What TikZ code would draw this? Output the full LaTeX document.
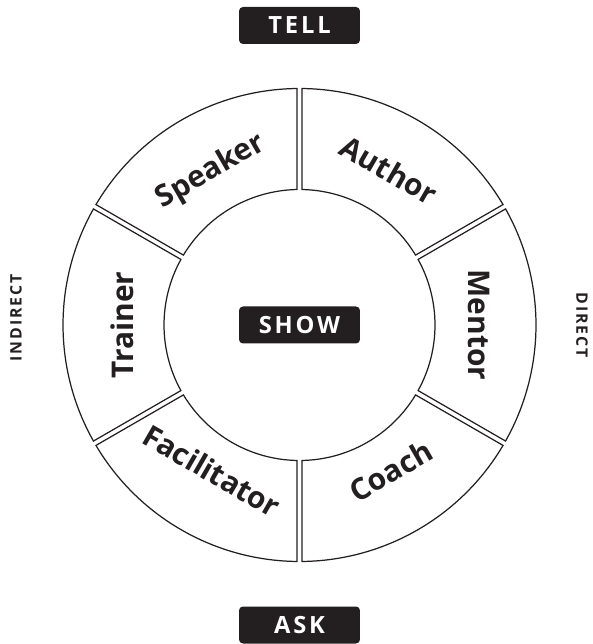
\documentclass[tikz,border=0pt]{standalone}
\usepackage{fontspec}
\setsansfont{Open Sans}
\newfontfamily\tagfont[LetterSpace=12]{Open Sans}
\usepackage{tikz}
\usetikzlibrary{positioning}
\definecolor{tagblack}{HTML}{231F20}
\definecolor{ringline}{HTML}{231F20}

\begin{document}
\begin{tikzpicture}[
  x=0.02cm, y=0.02cm,
  seg/.style={draw=ringline, line width=0.7pt, fill=white},
  role/.style={font=\sffamily\bfseries\fontsize{17}{20}\selectfont, color=tagblack, inner sep=0pt},
  tagbox/.style={rounded corners=0.08cm, fill=tagblack, text=white, minimum width=2.42cm, minimum height=0.74cm, inner sep=0pt, font=\tagfont\bfseries\fontsize{13.5}{16}\selectfont},
  side/.style={font=\tagfont\bfseries\fontsize{9}{11}\selectfont, color=tagblack, inner sep=0pt},
]
\useasboundingbox (-299.5,-319) rectangle (292.5,325);

% ring of six sectors, small gap between them
\draw[seg] (30.61:236.5) arc[start angle=30.61, end angle=89.39, radius=236.5] -- (88.94:135.5) arc[start angle=88.94, end angle=31.06, radius=135.5] -- cycle;
\draw[seg] (90.61:236.5) arc[start angle=90.61, end angle=149.39, radius=236.5] -- (148.94:135.5) arc[start angle=148.94, end angle=91.06, radius=135.5] -- cycle;
\draw[seg] (150.61:236.5) arc[start angle=150.61, end angle=209.39, radius=236.5] -- (208.94:135.5) arc[start angle=208.94, end angle=151.06, radius=135.5] -- cycle;
\draw[seg] (210.61:236.5) arc[start angle=210.61, end angle=269.39, radius=236.5] -- (268.94:135.5) arc[start angle=268.94, end angle=211.06, radius=135.5] -- cycle;
\draw[seg] (270.61:236.5) arc[start angle=270.61, end angle=329.39, radius=236.5] -- (328.94:135.5) arc[start angle=328.94, end angle=271.06, radius=135.5] -- cycle;
\draw[seg] (-29.39:236.5) arc[start angle=-29.39, end angle=29.39, radius=236.5] -- (28.94:135.5) arc[start angle=28.94, end angle=-28.94, radius=135.5] -- cycle;

% role labels, set along the ring
\node[role, rotate=-30] (author) at (60:179) {Author};
\node[role, rotate=30] (speaker) at (120:177) {Speaker};
\node[role, rotate=90] (trainer) at (180:177) {Trainer};
\node[role, rotate=-30] (facilitator) at (-121:170) {Facilitator};
\node[role, rotate=30] (coach) at (-58:172) {Coach};
\node[role, rotate=-90] (mentor) at (0:180) {Mentor};

% tags
\node[tagbox] (tell) at (0,299.5) {TELL};
\node[tagbox] (show) at (0,0) {SHOW};
\node[tagbox] (ask) at (0,-300) {ASK};

% sides
\node[side, rotate=90] (indirect) at (-283.5,7) {INDIRECT};
\node[side, rotate=-90] (direct) at (282.5,0) {DIRECT};

\end{tikzpicture}
\end{document}
